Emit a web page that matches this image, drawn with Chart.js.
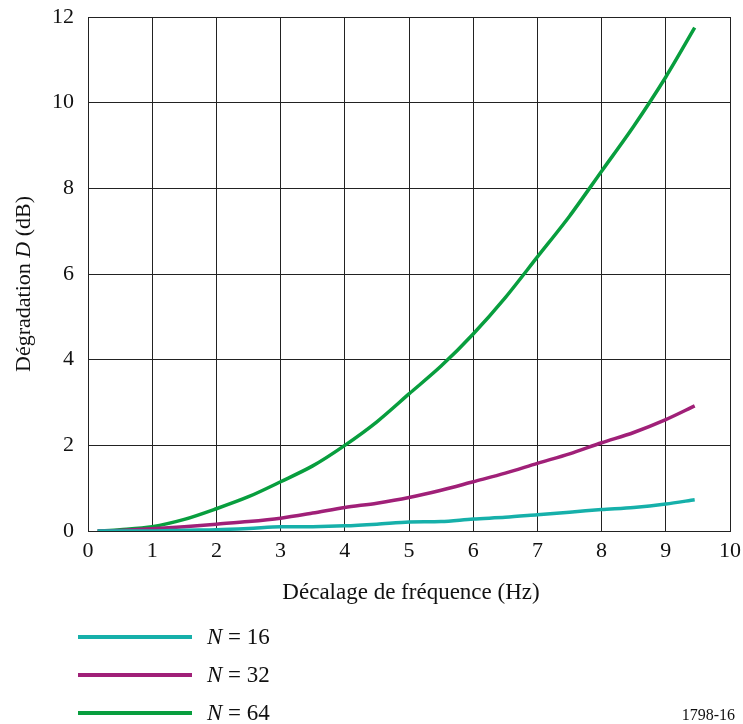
<!DOCTYPE html>
<html>
<head>
<meta charset="utf-8">
<script src="https://cdn.jsdelivr.net/npm/chart.js@4"></script>
<style>
  body { margin: 0; background: #fff; }
  #myChart { display: block; }
</style>
</head>
<body>
<canvas id="myChart" width="743" height="724"></canvas>
<script>
// frequency offset (Hz) and degradation D (dB) for each N
const offsets = [0.15, 0.5, 1, 1.5, 2, 2.5, 3, 3.5, 4, 4.5, 5, 5.5, 6, 6.5, 7, 7.5, 8, 8.5, 9, 9.45];
const degN16 = [0, 0, 0, 0.02, 0.03, 0.06, 0.1, 0.1, 0.12, 0.16, 0.21, 0.22, 0.28, 0.32, 0.38, 0.44, 0.5, 0.55, 0.63, 0.73];
const degN32 = [0, 0.01, 0.05, 0.1, 0.16, 0.22, 0.3, 0.42, 0.55, 0.65, 0.78, 0.95, 1.15, 1.35, 1.58, 1.8, 2.06, 2.3, 2.6, 2.92];
const degN64 = [0, 0.03, 0.1, 0.27, 0.52, 0.8, 1.15, 1.52, 2.0, 2.55, 3.2, 3.85, 4.6, 5.45, 6.4, 7.35, 8.4, 9.45, 10.6, 11.75];
const seriesLabels = ["16", "32", "64"];
const seriesColors = ["rgb(22,176,170)", "rgb(160,32,120)", "rgb(8,158,62)"];

const serif = "'Liberation Serif', 'Times New Roman', serif";

function toPoints(ys) {
  let pts = [];
  for (let i = 0; i < offsets.length; i++) pts.push({ x: offsets[i], y: ys[i] });
  return pts;
}

// axis titles (italic D), legend and figure number
const extras = {
  id: "extras",
  afterDraw(chart) {
    const ctx = chart.ctx;
    const area = chart.chartArea;
    ctx.save();
    ctx.fillStyle = "#111";
    ctx.textBaseline = "middle";

    // x axis title
    ctx.font = "23px " + serif;
    ctx.textAlign = "center";
    ctx.fillText("Décalage de fréquence (Hz)", (area.left + area.right) / 2 + 2, 593);

    // y axis title
    ctx.save();
    ctx.translate(24, 284);
    ctx.rotate(-Math.PI / 2);
    const parts = [["Dégradation ", "22px " + serif], ["D", "italic 22px " + serif], [" (dB)", "22px " + serif]];
    let total = 0;
    parts.forEach((p) => { ctx.font = p[1]; total += ctx.measureText(p[0]).width; });
    let x = -total / 2;
    ctx.textAlign = "left";
    parts.forEach((p) => {
      ctx.font = p[1];
      ctx.fillText(p[0], x, 0);
      x += ctx.measureText(p[0]).width;
    });
    ctx.restore();

    // legend
    const legendY = [637, 675, 713];
    for (let i = 0; i < seriesLabels.length; i++) {
      ctx.strokeStyle = seriesColors[i];
      ctx.lineWidth = 4;
      ctx.beginPath();
      ctx.moveTo(78, legendY[i]);
      ctx.lineTo(192, legendY[i]);
      ctx.stroke();
      ctx.textAlign = "left";
      ctx.font = "italic 23px " + serif;
      ctx.fillText("N", 207, legendY[i] + 1);
      let w = ctx.measureText("N").width;
      ctx.font = "23px " + serif;
      ctx.fillText(" = " + seriesLabels[i], 207 + w, legendY[i] + 1);
    }

    // figure number
    ctx.font = "16px " + serif;
    ctx.textAlign = "right";
    ctx.fillText("1798-16", 735, 716);
    ctx.restore();
  },
};

const ctx = document.getElementById("myChart").getContext("2d");
const myChart = new Chart(ctx, {
  type: "line",
  data: {
    datasets: [
      { label: "N = 16", data: toPoints(degN16), borderColor: seriesColors[0] },
      { label: "N = 32", data: toPoints(degN32), borderColor: seriesColors[1] },
      { label: "N = 64", data: toPoints(degN64), borderColor: seriesColors[2] },
    ],
  },
  options: {
    responsive: false,
    animation: false,
    layout: { padding: { left: 0, right: 0, top: 0, bottom: 0 } },
    elements: {
      point: { radius: 0 },
      line: { borderWidth: 3.5, tension: 0.3, fill: false },
    },
    plugins: { legend: { display: false }, tooltip: { enabled: false } },
    scales: {
      x: {
        type: "linear",
        min: 0,
        max: 10,
        afterFit: (scale) => { scale.height = 193; scale.paddingRight = 13; },
        ticks: { stepSize: 1, color: "#111", padding: 7, font: { family: serif, size: 22 } },
        grid: { color: "#222", lineWidth: 1, drawTicks: false },
        border: { color: "#222", width: 1 },
      },
      y: {
        min: 0,
        max: 12,
        afterFit: (scale) => { scale.width = 88; scale.paddingTop = 17; },
        ticks: { stepSize: 2, color: "#111", padding: 14, font: { family: serif, size: 22 } },
        grid: { color: "#222", lineWidth: 1, drawTicks: false },
        border: { color: "#222", width: 1 },
      },
    },
  },
  plugins: [extras],
});
</script>
</body>
</html>
